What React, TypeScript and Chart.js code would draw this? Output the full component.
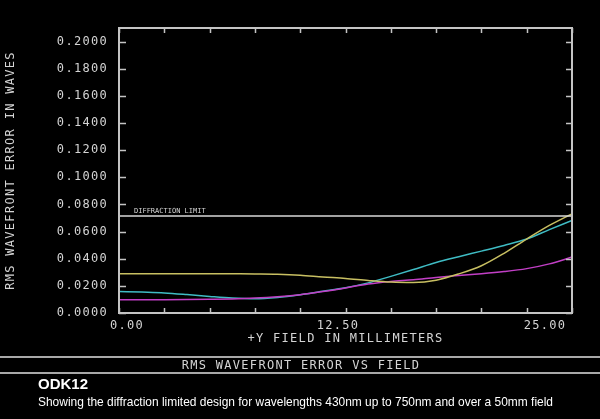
import React, { useEffect, useRef } from 'react';
import { Chart, registerables } from 'chart.js';

Chart.register(...registerables);

// ---- data ----
const fieldMm = [0, 1.25, 2.5, 3.75, 5, 6.25, 7.5, 8.75, 10, 11.25, 12.5, 13.75, 15, 16.25, 17.5, 18.75, 20, 21.25, 22.5, 23.75, 25];
const rmsYellow = [0.0290, 0.0290, 0.0290, 0.0290, 0.0290, 0.0289, 0.0288, 0.0286, 0.0279, 0.0266, 0.0255, 0.0240, 0.0228, 0.0225, 0.0242, 0.0288, 0.0348, 0.0440, 0.0545, 0.0645, 0.0731];
const rmsCyan = [0.0159, 0.0154, 0.0148, 0.0136, 0.0122, 0.0110, 0.0105, 0.0115, 0.0135, 0.0160, 0.0186, 0.0222, 0.0270, 0.0320, 0.0372, 0.0415, 0.0456, 0.0498, 0.0545, 0.0614, 0.0682];
const rmsMagenta = [0.0098, 0.0098, 0.0098, 0.0099, 0.0101, 0.0104, 0.0110, 0.0120, 0.0135, 0.0158, 0.0185, 0.0214, 0.0233, 0.0245, 0.0262, 0.0276, 0.0289, 0.0305, 0.0327, 0.0362, 0.0412];
const diffractionLimit = 0.0714;
const diffractionLabel = 'DIFFRACTION LIMIT';

const yTickValues = [0, 0.02, 0.04, 0.06, 0.08, 0.1, 0.12, 0.14, 0.16, 0.18, 0.2];
const xTickValues = [0, 12.5, 25];
const xTickLabels = ['0.00', '12.50', '25.00'];
const xMinorTickValues = [0, 2.5, 5, 7.5, 10, 12.5, 15, 17.5, 20, 22.5, 25];

const yAxisTitle = 'RMS WAVEFRONT ERROR IN WAVES';
const xAxisTitle = '+Y FIELD IN MILLIMETERS';
const plotTitle = 'RMS WAVEFRONT ERROR VS FIELD';
const heading = 'ODK12';
const caption = 'Showing the diffraction limited design for wavelengths 430nm up to 750nm and over a 50mm field';

// ---- styles ----
const MONO = "'DejaVu Sans Mono', monospace";
const TEXT = '#d4d4d4';
const FRAME = '#c4c4c4';
const SPACING = '1.3px';
const xLabelOffsets = [8, -7.5, -27];

const toPoints = (ys: number[]) => fieldMm.map((x, i) => ({ x, y: ys[i] }));

const decorPlugin = {
  id: 'decor',
  beforeDraw(chart: any) {
    const ctx = chart.ctx;
    ctx.save();
    ctx.fillStyle = '#000';
    ctx.fillRect(0, 0, chart.width, chart.height);
    ctx.restore();
    (ctx as any).letterSpacing = SPACING;
  },
  afterDraw(chart: any) {
    const ctx = chart.ctx as CanvasRenderingContext2D;
    const { left, right, top, bottom } = chart.chartArea;
    const xs = chart.scales.x;
    const ys = chart.scales.y;
    ctx.save();
    // frame
    ctx.strokeStyle = FRAME;
    ctx.lineWidth = 2;
    ctx.strokeRect(left, top, right - left, bottom - top);
    // inner ticks
    ctx.lineWidth = 1.5;
    ctx.beginPath();
    yTickValues.forEach((v) => {
      const py = Math.round(ys.getPixelForValue(v)) + 0.5;
      ctx.moveTo(left, py);
      ctx.lineTo(left + 7, py);
      ctx.moveTo(right - 6, py);
      ctx.lineTo(right, py);
    });
    xMinorTickValues.forEach((v) => {
      const px = Math.round(xs.getPixelForValue(v)) + 0.5;
      ctx.moveTo(px, top);
      ctx.lineTo(px, top + 5);
      ctx.moveTo(px, bottom);
      ctx.lineTo(px, bottom - 5);
    });
    ctx.stroke();

    // x tick labels
    (ctx as any).letterSpacing = SPACING;
    ctx.fillStyle = TEXT;
    ctx.font = `12px ${MONO}`;
    ctx.textAlign = 'center';
    ctx.textBaseline = 'middle';
    xTickValues.forEach((v, i) => {
      ctx.fillText(xTickLabels[i], xs.getPixelForValue(v) + xLabelOffsets[i], bottom + 13);
    });

    // diffraction label
    (ctx as any).letterSpacing = '0px';
    ctx.font = `7px ${MONO}`;
    ctx.textAlign = 'left';
    ctx.fillText(diffractionLabel, left + 15, ys.getPixelForValue(diffractionLimit) - 5);

    // bottom banner
    ctx.strokeStyle = '#a8a8a8';
    ctx.lineWidth = 2;
    ctx.beginPath();
    ctx.moveTo(0, 357);
    ctx.lineTo(chart.width, 357);
    ctx.moveTo(0, 373);
    ctx.lineTo(chart.width, 373);
    ctx.stroke();

    (ctx as any).letterSpacing = SPACING;
    ctx.font = `12px ${MONO}`;
    ctx.textAlign = 'center';
    ctx.fillStyle = TEXT;
    ctx.fillText(plotTitle, 301, 365.5);

    (ctx as any).letterSpacing = '0px';
    ctx.textAlign = 'left';
    ctx.fillStyle = '#ffffff';
    ctx.font = "bold 15px 'Liberation Sans', Arial, sans-serif";
    ctx.fillText(heading, 38, 385);

    ctx.font = "13px 'Liberation Sans', Arial, sans-serif";
    const w = ctx.measureText(caption).width;
    const sx = 515 / w;
    ctx.translate(38, 402);
    ctx.scale(sx, 1);
    ctx.fillText(caption, 0, 0);
    ctx.restore();
  },
};

export default function App() {
  const ref = useRef<HTMLCanvasElement | null>(null);

  useEffect(() => {
    if (!ref.current) return;
    const lineDs = (label: string, data: number[], color: string) => ({
      label,
      data: toPoints(data),
      borderColor: color,
      backgroundColor: color,
      borderWidth: 1.5,
      pointRadius: 0,
      cubicInterpolationMode: 'monotone' as const,
      fill: false,
    });
    const chart = new Chart(ref.current, {
      type: 'line',
      data: {
        datasets: [
          {
            label: 'Diffraction limit',
            data: [
              { x: 0, y: diffractionLimit },
              { x: 25, y: diffractionLimit },
            ],
            borderColor: '#d8d8d8',
            borderWidth: 1.5,
            pointRadius: 0,
            fill: false,
          },
          lineDs('Yellow', rmsYellow, '#c8bf62'),
          lineDs('Magenta', rmsMagenta, '#c23fc6'),
          lineDs('Cyan', rmsCyan, '#3fbcc4'),
        ],
      },
      options: {
        responsive: false,
        animation: false,
        events: [],
        layout: { padding: { top: 28, right: 28, bottom: 0, left: 0 } },
        plugins: { legend: { display: false }, tooltip: { enabled: false } },
        scales: {
          x: {
            type: 'linear',
            min: 0,
            max: 25,
            grid: { display: false, drawTicks: false },
            border: { display: false },
            ticks: { display: false },
            title: {
              display: true,
              text: xAxisTitle,
              color: TEXT,
              font: { family: MONO, size: 12 },
              padding: { top: 0, bottom: 73 },
            },
            afterFit: (s: any) => {
              s.height = 106;
            },
          },
          y: {
            type: 'linear',
            min: 0,
            max: 0.21,
            afterBuildTicks: (s: any) => {
              s.ticks = yTickValues.map((v) => ({ value: v }));
            },
            grid: { display: false, drawTicks: false },
            border: { display: false },
            ticks: {
              padding: 11,
              color: TEXT,
              font: { family: MONO, size: 12 },
              callback: (v: any) => Number(v).toFixed(4),
            },
            title: {
              display: true,
              text: yAxisTitle,
              color: TEXT,
              font: { family: MONO, size: 12 },
              padding: { top: 4, bottom: 0 },
            },
            afterFit: (s: any) => {
              s.width = 119;
            },
          },
        },
      },
      plugins: [decorPlugin],
    });
    return () => chart.destroy();
  }, []);

  return (
    <div style={{ position: 'fixed', left: 0, top: 0, width: 600, height: 419, background: '#000' }}>
      <canvas ref={ref} width={600} height={419} style={{ display: 'block' }} />
    </div>
  );
}
